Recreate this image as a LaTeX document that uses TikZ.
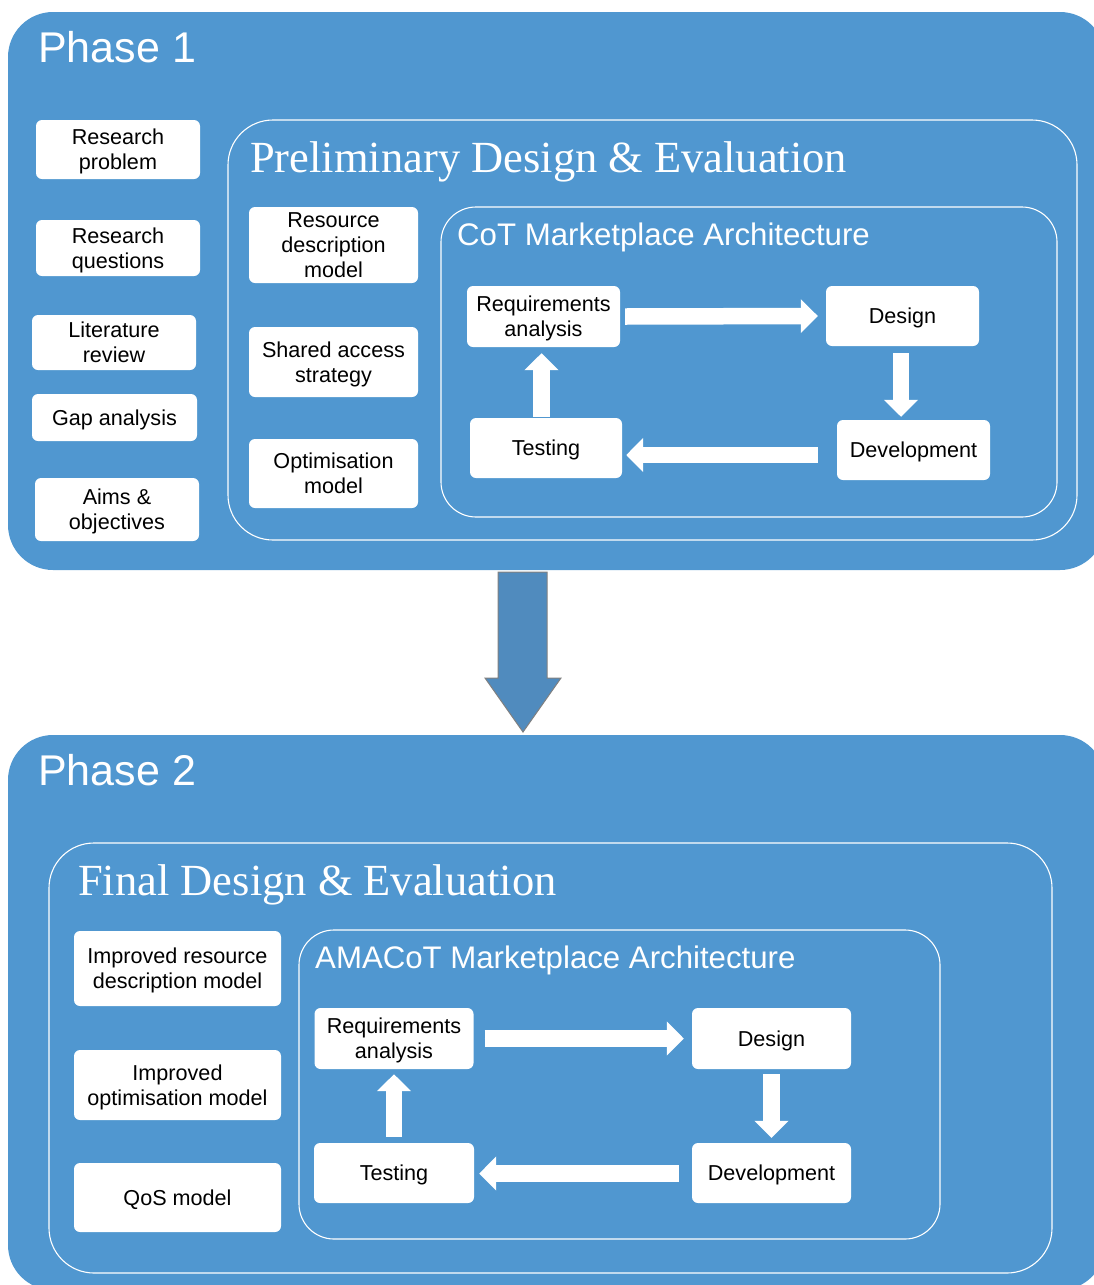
\documentclass[tikz,border=0pt]{standalone}
\usepackage{fontspec}
\setmainfont{Liberation Sans}
\newfontfamily\titleserif{Liberation Serif}
\usetikzlibrary{arrows.meta}
\definecolor{phaseblue}{RGB}{80,151,208}
\definecolor{bigarrowblue}{RGB}{80,139,190}
\definecolor{arrowedge}{RGB}{128,128,128}
\tikzset{
  phasebox/.style={fill=phaseblue, draw=none, rounded corners=45pt},
  framebox/.style={draw=white, line width=1.1pt, rounded corners=45pt},
  archbox/.style={draw=white, line width=1.1pt, rounded corners=35pt},
  wbox/.style={fill=white, draw=none, rounded corners=6pt, inner sep=0pt,
    align=center, font=\fontsize{21.6}{25}\selectfont, text=black,
    text depth=0pt},
  phaselabel/.style={anchor=base west, inner sep=0pt, text=white,
    font=\fontsize{43}{50}\selectfont},
  serifhead/.style={anchor=base west, inner sep=0pt, text=white,
    font=\titleserif\fontsize{44.5}{50}\selectfont},
  archhead/.style={anchor=base west, inner sep=0pt, text=white,
    font=\fontsize{31.2}{36}\selectfont},
  flow/.style={draw=white, line width=16.5pt,
    -{Triangle[width=33pt,length=17pt]}, fill=white},
}
\begin{document}
\begin{tikzpicture}[x=1pt,y=-1pt]
\useasboundingbox (0,0) rectangle (1094,1285);
\clip (0,0) rectangle (1094,1285);

% ---------------- Phase 1 ----------------
\draw[phasebox] (8,12) rectangle (1105,570);
\node[phaselabel] (p1label) at (38,62) {Phase 1};

\node[wbox, minimum width=164pt, minimum height=59pt] (rp) at (118,149.5) {Research\\problem};
\node[wbox, minimum width=164pt, minimum height=56pt] (rq) at (118,248) {Research\\questions};
\node[wbox, minimum width=164pt, minimum height=55pt] (lr) at (114,342.5) {Literature\\review};
\node[wbox, minimum width=165pt, minimum height=47pt] (ga) at (114.5,417.5) {Gap analysis};
\node[wbox, minimum width=164pt, minimum height=63pt] (ao) at (117,509.5) {Aims \&\\objectives};

\draw[framebox] (228,120) rectangle (1077,540);
\node[serifhead] (prelim) at (250,172) {Preliminary Design \& Evaluation};

\node[wbox, minimum width=169pt, minimum height=76pt] (rdm) at (333.5,245) {Resource\\description\\model};
\node[wbox, minimum width=169pt, minimum height=70pt] (sas) at (333.5,362) {Shared access\\strategy};
\node[wbox, minimum width=169pt, minimum height=69pt] (om) at (333.5,473.5) {Optimisation\\model};

\draw[archbox] (441,207) rectangle (1057,517);
\node[archhead] (cot) at (457,245) {CoT Marketplace Architecture};

\node[wbox, minimum width=153pt, minimum height=61pt] (req) at (543.5,316.5) {Requirements\\analysis};
\node[wbox, minimum width=153pt, minimum height=60pt] (des) at (902.5,316) {Design};
\node[wbox, minimum width=153pt, minimum height=60pt] (dev) at (913.5,450) {Development};
\node[wbox, minimum width=152pt, minimum height=60pt] (test) at (546,448) {Testing};

\draw[flow] ([xshift=5pt]req.east) -- ([xshift=-8pt]des.west);
\draw[flow] ([shift={(-1.5pt,-7pt)}]des.south) -- ([shift={(-1.5pt,3pt)}]des.south |- dev.north);
\draw[flow] ([shift={(-19pt,-5pt)}]dev.west) -- ([shift={(4pt,-5pt)}]dev.west -| test.east);
\draw[flow] ([shift={(-4.5pt,1pt)}]test.north) -- ([shift={(-2pt,-6pt)}]req.south);

% ---------------- transition arrow ----------------
\coordinate (bigtop) at (523,572);
\draw[fill=bigarrowblue, draw=arrowedge, line width=1pt, line join=miter]
  ([shift={(-25pt,0pt)}]bigtop) -- ([shift={(24pt,0pt)}]bigtop)
  -- ([shift={(24pt,-106pt)}]bigtop) -- ([shift={(38pt,-106pt)}]bigtop)
  -- ([shift={(0pt,-160pt)}]bigtop) -- ([shift={(-38pt,-106pt)}]bigtop)
  -- ([shift={(-25pt,-106pt)}]bigtop) -- cycle;

% ---------------- Phase 2 ----------------
\draw[phasebox] (8,735) rectangle (1105,1290);
\node[phaselabel] (p2label) at (38,785) {Phase 2};

\draw[framebox] (49,843) rectangle (1052,1273);
\node[serifhead] (final) at (78,895) {Final Design \& Evaluation};

\node[wbox, minimum width=207pt, minimum height=75pt] (irdm) at (177.5,968.5) {Improved resource\\description model};
\node[wbox, minimum width=207pt, minimum height=70pt] (iom) at (177.5,1085) {Improved\\optimisation model};
\node[wbox, minimum width=207pt, minimum height=69pt] (qos) at (177.5,1197.5) {QoS model};

\draw[archbox] (299,930) rectangle (940,1239);
\node[archhead] (amacot) at (315,968) {AMACoT Marketplace Architecture};

\node[wbox, minimum width=159pt, minimum height=61pt] (req2) at (394,1038.5) {Requirements\\analysis};
\node[wbox, minimum width=159pt, minimum height=61pt] (des2) at (771.5,1038.5) {Design};
\node[wbox, minimum width=159pt, minimum height=60pt] (dev2) at (771.5,1173) {Development};
\node[wbox, minimum width=160pt, minimum height=60pt] (test2) at (394,1173) {Testing};

\draw[flow] ([xshift=11pt]req2.east) -- ([xshift=-8pt]des2.west);
\draw[flow] ([yshift=-5pt]des2.south) -- ([yshift=5pt]dev2.north);
\draw[flow] ([shift={(-13pt,-0.5pt)}]dev2.west) -- ([shift={(5pt,-0.5pt)}]test2.east);
\draw[flow] ([yshift=6pt]test2.north) -- ([yshift=-5pt]req2.south);
\end{tikzpicture}
\end{document}
